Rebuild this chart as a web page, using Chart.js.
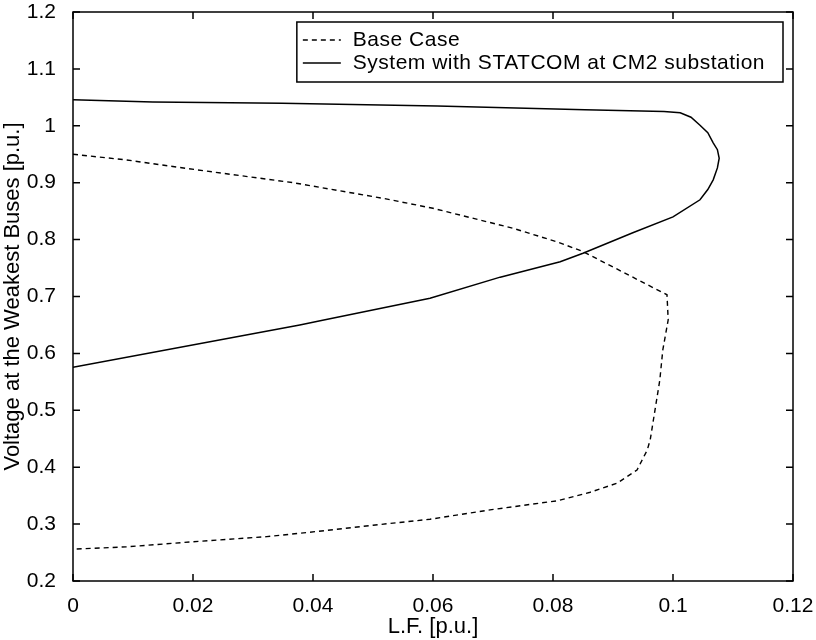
<!DOCTYPE html>
<html>
<head>
<meta charset="utf-8">
<script src="https://cdn.jsdelivr.net/npm/chart.js@4"></script>
<style>
  html, body { margin: 0; padding: 0; background: #fff; }
  #wrap { width: 816px; height: 640px; }
</style>
</head>
<body>
<div id="wrap"><canvas id="pv"></canvas></div>
<script>
// Base case (dashed)
const baseLF = [0, 0.0089, 0.019, 0.0367, 0.0517, 0.06, 0.0733, 0.0807, 0.085, 0.099, 0.0992, 0.0983, 0.0978, 0.0962, 0.0957, 0.094, 0.0907, 0.0862, 0.0807, 0.0695, 0.0595, 0.05, 0.0389, 0.0323, 0.02, 0.0089, 0];
const baseV = [0.950, 0.940, 0.925, 0.900, 0.8725, 0.855, 0.820, 0.796, 0.779, 0.703, 0.659, 0.606, 0.553, 0.448, 0.430, 0.395, 0.372, 0.356, 0.341, 0.325, 0.3085, 0.298, 0.285, 0.278, 0.269, 0.260, 0.256];

// System with STATCOM at CM2 (solid)
const statcomLF = [0, 0.0133, 0.0348, 0.0607, 0.0853, 0.0985, 0.1012, 0.1030, 0.1045, 0.1058, 0.1067, 0.1074, 0.1077, 0.1074, 0.1067, 0.1058, 0.1045, 0.1, 0.0933, 0.085, 0.0812, 0.0712, 0.0595, 0.0412, 0.0378, 0];
const statcomV = [1.046, 1.042, 1.0395, 1.035, 1.028, 1.025, 1.023, 1.015, 1.001, 0.988, 0.970, 0.958, 0.943, 0.926, 0.905, 0.888, 0.870, 0.840, 0.812, 0.776, 0.761, 0.734, 0.697, 0.6575, 0.650, 0.5755];

const seriesNames = ['Base Case', 'System with STATCOM at CM2 substation'];
const xTicks = [0, 0.02, 0.04, 0.06, 0.08, 0.1, 0.12];
const yTicks = [0.2, 0.3, 0.4, 0.5, 0.6, 0.7, 0.8, 0.9, 1, 1.1, 1.2];

const FONT = '"Liberation Sans", Arial, sans-serif';
const toPts = (xs, ys) => xs.map((x, i) => ({ x: x, y: ys[i] }));

// matlab style box with inward ticks + legend in the corner
const boxPlugin = {
  id: 'box',
  afterDraw(chart) {
    const ctx = chart.ctx;
    const a = chart.chartArea;
    const xs = chart.scales.x, ys = chart.scales.y;
    const tl = 7;
    ctx.save();
    ctx.strokeStyle = '#000';
    ctx.lineWidth = 1.5;
    ctx.strokeRect(a.left, a.top, a.right - a.left, a.bottom - a.top);
    ctx.beginPath();
    xTicks.forEach(v => {
      const px = xs.getPixelForValue(v);
      ctx.moveTo(px, a.bottom); ctx.lineTo(px, a.bottom - tl);
      ctx.moveTo(px, a.top); ctx.lineTo(px, a.top + tl);
    });
    yTicks.forEach(v => {
      const py = ys.getPixelForValue(v);
      ctx.moveTo(a.left, py); ctx.lineTo(a.left + tl, py);
      ctx.moveTo(a.right, py); ctx.lineTo(a.right - tl, py);
    });
    ctx.stroke();

    // legend
    ctx.font = '21px ' + FONT;
    ctx.letterSpacing = '0.5px';
    let tw = 0;
    seriesNames.forEach(n => { tw = Math.max(tw, ctx.measureText(n).width); });
    const bw = 56 + tw + 18, bh = 60;
    const bx = a.right - 10 - bw, by = a.top + 10;
    ctx.fillStyle = '#fff';
    ctx.fillRect(bx, by, bw, bh);
    ctx.lineWidth = 1.5;
    ctx.strokeRect(bx, by, bw, bh);
    const rows = [by + 18, by + 41];
    chart.data.datasets.forEach((ds, i) => {
      ctx.beginPath();
      ctx.setLineDash(ds.borderDash || []);
      ctx.lineWidth = ds.borderWidth;
      ctx.moveTo(bx + 6, rows[i]);
      ctx.lineTo(bx + 44, rows[i]);
      ctx.stroke();
      ctx.setLineDash([]);
      ctx.fillStyle = '#000';
      ctx.textBaseline = 'middle';
      ctx.fillText(ds.label, bx + 56, rows[i]);
    });
    ctx.restore();
  }
};

new Chart(document.getElementById('pv'), {
  type: 'scatter',
  data: {
    datasets: [
      {
        label: seriesNames[0],
        data: toPts(baseLF, baseV),
        showLine: true,
        borderColor: '#000',
        borderWidth: 1.4,
        borderDash: [5, 4],
        pointRadius: 0,
        tension: 0,
      },
      {
        label: seriesNames[1],
        data: toPts(statcomLF, statcomV),
        showLine: true,
        borderColor: '#000',
        borderWidth: 1.5,
        pointRadius: 0,
        tension: 0,
      },
    ],
  },
  options: {
    responsive: true,
    maintainAspectRatio: false,
    animation: false,
    layout: { padding: { top: 12, right: 23, left: 0, bottom: 0 } },
    plugins: {
      legend: { display: false },
      tooltip: { enabled: false },
    },
    scales: {
      x: {
        type: 'linear',
        min: 0,
        max: 0.12,
        afterBuildTicks: s => { s.ticks = xTicks.map(v => ({ value: v })); },
        afterFit: s => { s.height = 59; s.paddingLeft = 0; s.paddingRight = 0; },
        grid: { display: false },
        border: { display: false },
        ticks: {
          color: '#000',
          padding: 5,
          font: { family: FONT, size: 21 },
          callback: v => String(Number(v.toFixed(2))),
        },
        title: {
          display: true,
          text: 'L.F. [p.u.]',
          color: '#000',
          padding: 0,
          font: { family: FONT, size: 22 },
        },
      },
      y: {
        type: 'linear',
        min: 0.2,
        max: 1.2,
        afterBuildTicks: s => { s.ticks = yTicks.map(v => ({ value: v })); },
        afterFit: s => { s.width = 73; s.paddingTop = 0; s.paddingBottom = 0; },
        grid: { display: false },
        border: { display: false },
        ticks: {
          color: '#000',
          padding: 9,
          font: { family: FONT, size: 21 },
          callback: v => String(Number(v.toFixed(1))),
        },
        title: {
          display: true,
          text: 'Voltage at the Weakest Buses [p.u.]',
          color: '#000',
          padding: 0,
          font: { family: FONT, size: 22 },
        },
      },
    },
  },
  plugins: [boxPlugin],
});
</script>
</body>
</html>
